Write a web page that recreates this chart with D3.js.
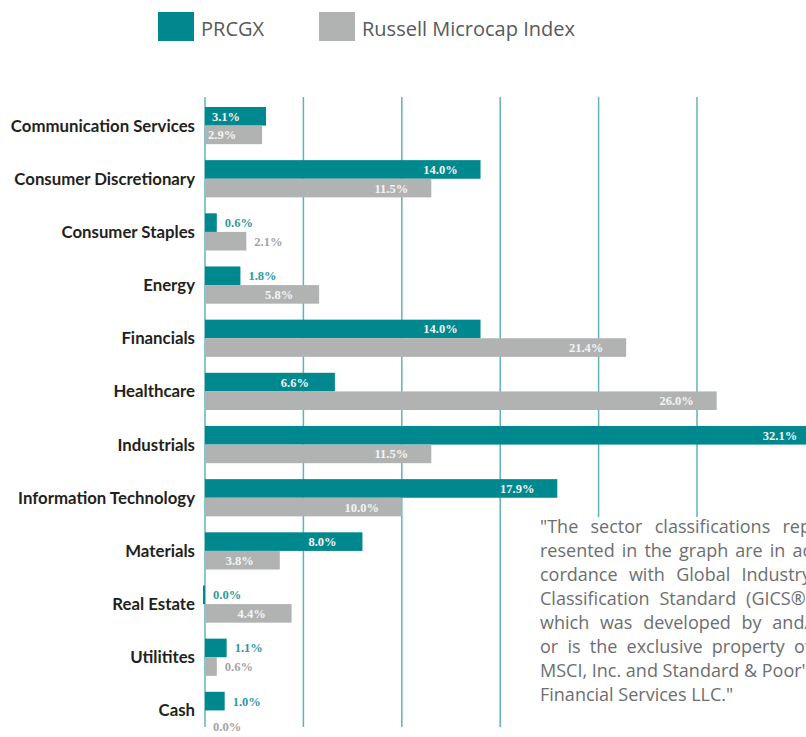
<!DOCTYPE html>
<html>
<head>
<meta charset="utf-8">
<script src="https://cdnjs.cloudflare.com/ajax/libs/d3/7.8.5/d3.min.js"></script>
<style>
  body { margin: 0; background: #fff; }
  svg { display: block; }
</style>
</head>
<body>
<script>
var width = 806;
var height = 737;

var sectors = ['Communication Services', 'Consumer Discretionary', 'Consumer Staples', 'Energy',
  'Financials', 'Healthcare', 'Industrials', 'Information Technology', 'Materials',
  'Real Estate', 'Utilitites', 'Cash'];
var prcgx = [3.1, 14.0, 0.6, 1.8, 14.0, 6.6, 32.1, 17.9, 8.0, 0.0, 1.1, 1.0];
var russell = [2.9, 11.5, 2.1, 5.8, 21.4, 26.0, 11.5, 10.0, 3.8, 4.4, 0.6, 0.0];
var gridTicks = [0, 5, 10, 15, 20, 25];
var seriesNames = ['PRCGX', 'Russell Microcap Index'];
var noteLines = ['"The sector classifications rep', 'resented in the graph are in ac',
  'cordance with Global Industry', 'Classification Standard (GICS\u00AE)',
  'which was developed by and/', 'or is the exclusive property of',
  'MSCI, Inc. and Standard & Poor\'s', 'Financial Services LLC."'];

var teal = '#00888f';
var grey = '#b1b3b3';

var svg = d3.select('body').append('svg')
    .attr('width', width)
    .attr('height', height);

var x = d3.scaleLinear().domain([0, 25]).range([205, 697]);
var y = d3.scaleBand().domain(sectors).range([99, 737]).paddingInner(0.3).paddingOuter(0.15);
var half = y.bandwidth() / 2;

// legend
var legend = svg.append('g').attr('class', 'legend');
var legX = [158, 319];
seriesNames.forEach((name, i) => {
  legend.append('rect')
    .attr('x', legX[i]).attr('y', 12)
    .attr('width', 36).attr('height', 29)
    .attr('fill', i == 0 ? teal : grey);
  legend.append('text')
    .attr('x', legX[i] + 43).attr('y', 36)
    .attr('font-family', 'Open Sans')
    .attr('font-size', 20)
    .attr('fill', '#58595b')
    .text(name);
});

// grid lines
svg.append('g').attr('class', 'grid')
  .selectAll('line')
  .data(gridTicks)
  .enter().append('line')
    .attr('x1', (d) => x(d)).attr('x2', (d) => x(d))
    .attr('y1', 97).attr('y2', 727)
    .attr('stroke', '#5fb3ba')
    .attr('stroke-width', 1.5);

var rows = sectors.map((s, i) => ({ sector: s, p: prcgx[i], r: russell[i] }));

// bars
var bars = svg.append('g').attr('class', 'bars');
rows.forEach((d) => {
  var top = y(d.sector);
  bars.append('rect')
    .attr('x', d.p == 0 ? x(0) - 2 : x(0))
    .attr('y', top)
    .attr('width', d.p == 0 ? 2 : x(d.p) - x(0))
    .attr('height', half)
    .attr('fill', teal);
  if (d.r > 0) {
    bars.append('rect')
      .attr('x', x(0))
      .attr('y', top + half)
      .attr('width', x(d.r) - x(0))
      .attr('height', half)
      .attr('fill', grey);
  }
});

// value labels
var labels = svg.append('g').attr('class', 'values')
  .attr('font-family', 'Liberation Serif')
  .attr('font-weight', 'bold')
  .attr('font-size', 12.5);

function addLabel(v, yMid, outColor) {
  var inside = v >= 2.5;
  labels.append('text')
    .attr('x', inside ? Math.min(x(v) - 40, width - 26) : x(v) + 8)
    .attr('y', yMid + 4.5)
    .attr('text-anchor', inside ? 'middle' : 'start')
    .attr('fill', inside ? '#f4f4f4' : outColor)
    .text(v.toFixed(1) + '%');
}
rows.forEach((d) => {
  var top = y(d.sector);
  addLabel(d.p, top + half / 2, '#2b9aa2');
  addLabel(d.r, top + half * 1.5 + (d.r == 0 ? 7 : 0), '#a2a4a6');
});

// category labels
svg.append('g').attr('class', 'cats')
  .selectAll('text')
  .data(sectors)
  .enter().append('text')
    .attr('x', 195)
    .attr('y', (d) => y(d) + y.bandwidth() / 2 + 6)
    .attr('text-anchor', 'end')
    .attr('font-family', 'Lato')
    .attr('font-weight', 'bold')
    .attr('font-size', 16.8)
    .attr('fill', '#231f20')
    .text((d) => d);

// note box
var note = svg.append('g').attr('class', 'note');
note.append('rect')
  .attr('x', 528).attr('y', 517)
  .attr('width', 300).attr('height', 220)
  .attr('fill', '#fff');

var boxLeft = 540, boxRight = 811;
noteLines.forEach((line, i) => {
  var t = note.append('text')
    .attr('x', boxLeft)
    .attr('y', 533 + i * 24)
    .attr('font-family', 'Open Sans')
    .attr('font-size', 18)
    .attr('fill', '#6d6e71')
    .text(line);
  if (i < noteLines.length - 1) {
    var natural = t.node().getComputedTextLength();
    var gaps = line.split(' ').length - 1;
    if (gaps > 0) t.attr('word-spacing', Math.max(0, (boxRight - boxLeft - natural) / gaps));
  }
});
</script>
</body>
</html>
